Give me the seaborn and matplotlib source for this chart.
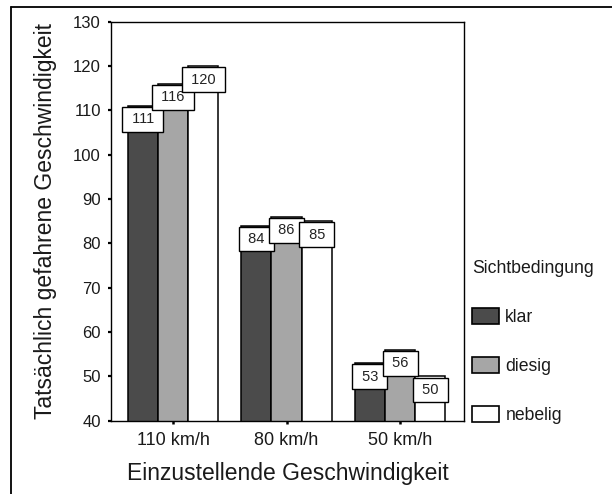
import matplotlib
matplotlib.use('Agg')
import matplotlib.pyplot as plt
from matplotlib.lines import Line2D
from matplotlib.patches import Patch
import seaborn as sns
import pandas as pd

categories = ['110 km/h', '80 km/h', '50 km/h']
conditions = ['klar', 'diesig', 'nebelig']
klar = [111, 84, 53]
diesig = [116, 86, 56]
nebelig = [120, 85, 50]
colors = ['#4b4b4b', '#a6a6a6', '#ffffff']
yticks = list(range(40, 131, 10))

sns.set_style('white')
plt.rcParams['font.family'] = ['Liberation Sans', 'DejaVu Sans']
txtcol = '#1a1a1a'

rows = []
for cond, vals in zip(conditions, [klar, diesig, nebelig]):
    for cat, v in zip(categories, vals):
        rows.append({'Geschwindigkeit': cat, 'Sicht': cond, 'Wert': v})
df = pd.DataFrame(rows)

fig = plt.figure(figsize=(6.12, 4.94), dpi=100)
ax = fig.add_axes([0.1819, 0.1484, 0.5758, 0.8077])

sns.barplot(data=df, x='Geschwindigkeit', y='Wert', hue='Sicht',
            order=categories, hue_order=conditions, palette=colors,
            edgecolor='black', linewidth=1.1, errorbar=None, width=0.8,
            legend=False, ax=ax)

ax.set_ylim(40, 130)
ax.set_xlim(-0.544, 2.561)
ax.set_yticks(yticks)
ax.set_yticklabels([str(t) for t in yticks])

for cont in ax.containers:
    texts = ax.bar_label(cont, labels=[f' {int(v)} ' for v in cont.datavalues],
                         padding=-4.7, fontsize=10.5, color='#222222',
                         bbox=dict(boxstyle='square,pad=0.36', fc='white',
                                   ec='black', lw=1.0))
    for t in texts:
        t.set_va('top')

for s in ax.spines.values():
    s.set_visible(True)
    s.set_color('black')
    s.set_linewidth(1.0)

ax.tick_params(axis='y', direction='out', length=2.5, width=1.6, color='black',
               labelsize=12, pad=5, labelcolor=txtcol, left=True)
ax.tick_params(axis='x', direction='out', length=2.5, width=1.8, color='black',
               labelsize=13, pad=6, labelcolor=txtcol, bottom=True)

ax.set_xlabel('Einzustellende Geschwindigkeit', fontsize=16.5, color=txtcol)
ax.set_ylabel('Tatsächlich gefahrene Geschwindigkeit', fontsize=16.5, color=txtcol)
ax.xaxis.set_label_coords(0.5, -0.1035)
ax.yaxis.set_label_coords(-0.154, 0.5)

handles = [Patch(facecolor=c, edgecolor='black', linewidth=1.2) for c in colors]
leg = fig.legend(handles, conditions, title='Sichtbedingung', frameon=False,
                 loc='upper left', bbox_to_anchor=(0.771, 0.474),
                 borderaxespad=0, borderpad=0, fontsize=12.7,
                 title_fontsize=12.7, handlelength=1.53, handleheight=1.02,
                 handletextpad=0.37, labelspacing=1.75, alignment='left')
for t in leg.get_texts():
    t.set_color(txtcol)
leg.get_title().set_color(txtcol)

fig.add_artist(Line2D([11/612, 11/612], [0, 1 - 7/494], transform=fig.transFigure,
                      color='black', lw=1.3))
fig.add_artist(Line2D([11/612, 1], [1 - 7/494, 1 - 7/494], transform=fig.transFigure,
                      color='black', lw=1.3))

fig.savefig('out.png', dpi=100)
